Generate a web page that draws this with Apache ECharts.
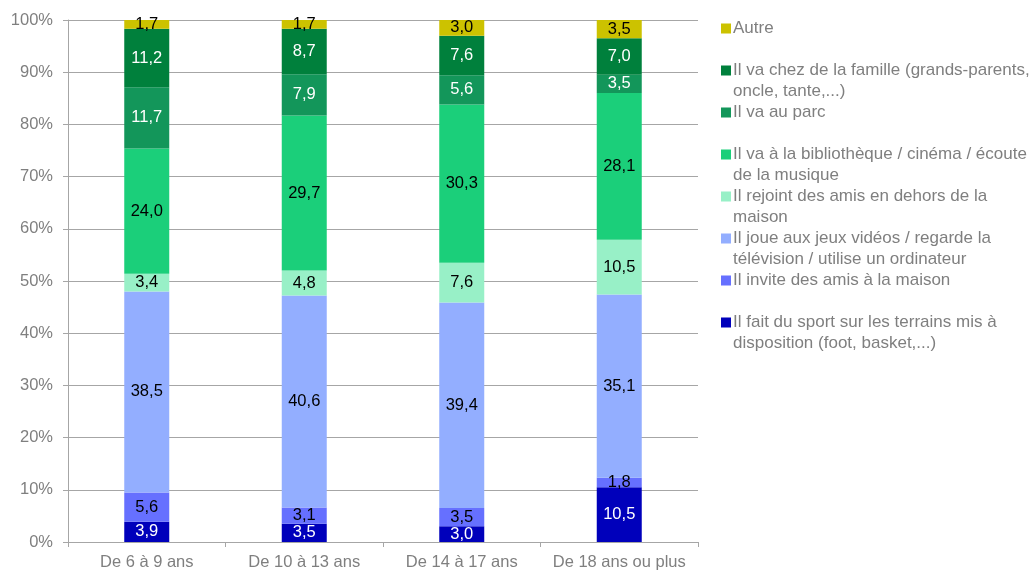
<!DOCTYPE html>
<html>
<head>
<meta charset="utf-8">
<script src="https://cdn.jsdelivr.net/npm/echarts@6/dist/echarts.min.js"></script>
<style>
  html, body { margin: 0; padding: 0; background: #ffffff; }
  #chart { width: 1031px; height: 572px; }
</style>
</head>
<body>
<div id="chart"></div>
<script>
// Age groups on the x axis
const categories = ['De 6 à 9 ans', 'De 10 à 13 ans', 'De 14 à 17 ans', 'De 18 ans ou plus'];

// Share of each activity (%), stacked from bottom to top
const sport       = [3.9, 3.5, 3.0, 10.5];
const invite      = [5.6, 3.1, 3.5, 1.8];
const jeuxVideo   = [38.5, 40.6, 39.4, 35.1];
const amisDehors  = [3.4, 4.8, 7.6, 10.5];
const culture     = [24.0, 29.7, 30.3, 28.1];
const parc        = [11.7, 7.9, 5.6, 3.5];
const famille     = [11.2, 8.7, 7.6, 7.0];
const autre       = [1.7, 1.7, 3.0, 3.5];

// Series names, bottom to top of the stack
const seriesNames = [
  'Il fait du sport sur les terrains mis à disposition (foot, basket,...)',
  'Il invite des amis à la maison',
  'Il joue aux jeux vidéos / regarde la télévision / utilise un ordinateur',
  'Il rejoint des amis en dehors de la maison',
  'Il va à la bibliothèque / cinéma / écoute de la musique',
  'Il va au parc',
  'Il va chez de la famille (grands-parents, oncle, tante,...)',
  'Autre'
];

// Wrapped legend text for each series (same order as seriesNames)
const legendLines = [
  ['Il fait du sport sur les terrains mis à', 'disposition (foot, basket,...)'],
  ['Il invite des amis à la maison'],
  ['Il joue aux jeux vidéos / regarde la', 'télévision / utilise un ordinateur'],
  ['Il rejoint des amis en dehors de la', 'maison'],
  ['Il va à la bibliothèque / cinéma / écoute', 'de la musique'],
  ['Il va au parc'],
  ['Il va chez de la famille (grands-parents,', 'oncle, tante,...)'],
  ['Autre']
];

// Y axis tick values
const yTicks = { min: 0, max: 100, interval: 10 };

const values = [sport, invite, jeuxVideo, amisDehors, culture, parc, famille, autre];
const colors = ['#0000BB', '#6670FF', '#93AEFF', '#98F0C7', '#1BCF7A', '#13965A', '#00803C', '#CCC200'];
const labelColors = ['#ffffff', '#000000', '#000000', '#000000', '#000000', '#ffffff', '#ffffff', '#000000'];

const FONT = '"Liberation Sans", Arial, Helvetica, sans-serif';
const GREY_TEXT = '#7f7f7f';
const GREY_LINE = '#a6a6a6';

// Legend marker: a 10x10 square sitting at the top of a 10x31 box,
// so it lines up with the first line of a two-line legend entry.
const LEGEND_ICON = 'path://M0,0L10,0L10,10L0,10Z M0,31L10,31';

const series = values.map((vals, i) => ({
  name: seriesNames[i],
  type: 'bar',
  stack: 'total',
  barWidth: 45,
  data: vals,
  itemStyle: { color: colors[i] },
  label: {
    show: true,
    position: 'inside',
    color: labelColors[i],
    fontFamily: FONT,
    fontSize: 16.5,
    formatter: p => p.value.toFixed(1).replace('.', ',')
  },
  emphasis: { disabled: true }
}));

const legendText = {};
seriesNames.forEach((n, i) => {
  const lines = legendLines[i];
  legendText[n] = lines[0] + '\n' + (lines[1] || '\u00a0');
});

const chart = echarts.init(document.getElementById('chart'), null, { renderer: 'canvas' });
chart.setOption({
  animation: false,
  backgroundColor: '#ffffff',
  grid: { left: 68, right: 333, top: 20, bottom: 30, containLabel: false },
  legend: {
    orient: 'vertical',
    left: 721,
    top: 18,
    padding: 0,
    itemGap: 0,
    itemWidth: 10,
    itemHeight: 31,
    icon: LEGEND_ICON,
    selectedMode: false,
    data: seriesNames.slice().reverse(),
    formatter: name => legendText[name],
    textStyle: {
      fontFamily: FONT,
      fontSize: 17,
      color: GREY_TEXT,
      lineHeight: 21,
      padding: [0, 0, 0, -3]
    }
  },
  xAxis: {
    type: 'category',
    data: categories,
    axisLine: { show: true, lineStyle: { color: GREY_LINE, width: 1 } },
    axisTick: { show: true, interval: 0, length: 5, lineStyle: { color: GREY_LINE } },
    axisLabel: { interval: 0, color: GREY_TEXT, fontFamily: FONT, fontSize: 16.5, margin: 12 }
  },
  yAxis: {
    type: 'value',
    min: yTicks.min,
    max: yTicks.max,
    interval: yTicks.interval,
    axisLine: { show: true, lineStyle: { color: GREY_LINE, width: 1 } },
    axisTick: { show: true, length: 5, lineStyle: { color: GREY_LINE } },
    axisLabel: { color: GREY_TEXT, fontFamily: FONT, fontSize: 16.5, margin: 15, formatter: '{value}%' },
    splitLine: { show: true, lineStyle: { color: GREY_LINE, width: 1 } }
  },
  series: series
});
</script>
</body>
</html>
